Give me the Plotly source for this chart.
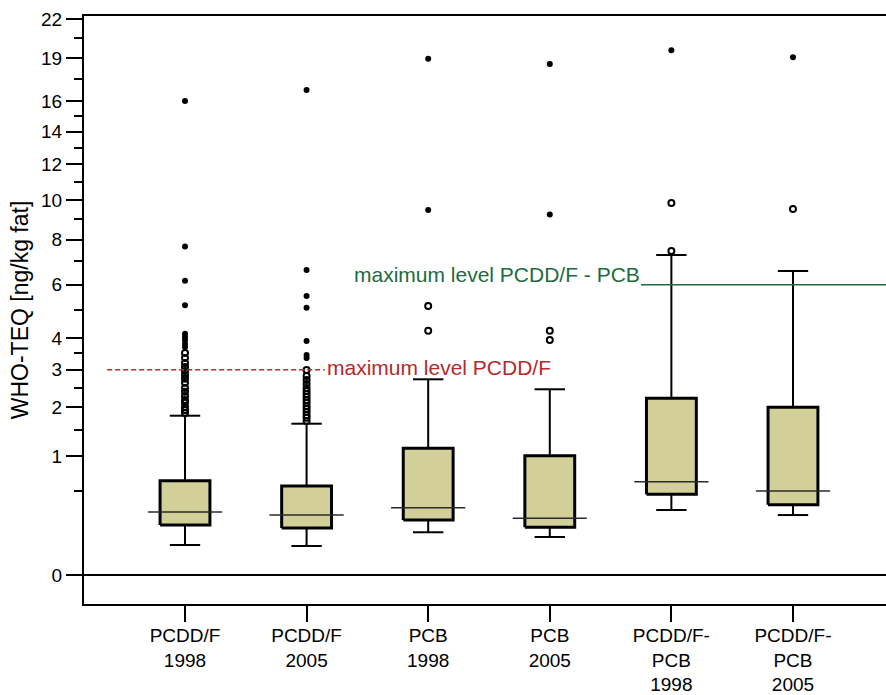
import numpy as np
import plotly.graph_objects as go

# Groups (TEQ scheme / year) and box statistics in ng WHO-TEQ per kg fat
categories = ["PCDD/F<br>1998", "PCDD/F<br>2005", "PCB<br>1998", "PCB<br>2005",
              "PCDD/F-<br>PCB<br>1998", "PCDD/F-<br>PCB<br>2005"]
q1 = [0.178, 0.157, 0.215, 0.162, 0.464, 0.352]
median = [0.283, 0.256, 0.323, 0.229, 0.620, 0.502]
q3 = [0.633, 0.564, 1.143, 1.014, 2.223, 2.003]
whisker_low = [0.064, 0.060, 0.130, 0.103, 0.301, 0.256]
whisker_high = [1.807, 1.630, 2.727, 2.456, 7.29, 6.58]

# Outliers (open circles) and extreme values (filled dots)
outliers_mild = [
    [3.51, 3.35, 3.20, 3.08, 2.96, 2.85, 2.74, 2.63, 2.49, 2.39, 2.28, 2.18, 2.11, 2.01, 1.94, 1.87],
    [2.99, 2.82, 2.71, 2.60, 2.49, 2.41, 2.33, 2.26, 2.18, 2.11, 2.03, 1.96, 1.89, 1.82, 1.76, 1.69],
    [5.15, 4.25],
    [4.25, 3.93],
    [9.86, 7.48],
    [9.54],
]
outliers_extreme = [
    [16.0, 7.68, 6.16, 5.18, 4.14, 4.03, 3.93, 3.80, 3.70],
    [16.75, 6.62, 5.54, 5.09, 3.90, 3.45, 3.35],
    [18.98, 9.49],
    [18.6, 9.25],
    [19.6],
    [19.09],
]

# EU maximum levels
max_level_pcddf = 3
max_level_total = 6

y_ticks = [0, 1, 2, 3, 4, 6, 8, 10, 12, 14, 16, 19, 22]
y_minor = [0.5, 1.5, 2.5, 3.5, 5, 7, 9, 11, 13, 15, 17.5, 20.5]


def t(v):
    """Square-root transform used for the value axis."""
    return np.sqrt(np.asarray(v, dtype=float))


FONT = "Liberation Sans, Arial, sans-serif"
BOX_FILL = "#d3cf99"
BOX_W = 0.41
MED_W = 0.61
CAP_W = 0.25

pos = np.arange(1, len(categories) + 1)

fig = go.Figure()

# whiskers and caps
wx, wy = [], []
for c, lo, a, b, hi in zip(pos, whisker_low, q1, q3, whisker_high):
    wx += [c, c, None, c, c, None,
           c - CAP_W / 2, c + CAP_W / 2, None, c - CAP_W / 2, c + CAP_W / 2, None]
    wy += [t(lo), t(a), None, t(b), t(hi), None,
           t(lo), t(lo), None, t(hi), t(hi), None]
fig.add_trace(go.Scatter(x=wx, y=wy, mode="lines",
                         line=dict(color="black", width=2), hoverinfo="skip"))

# boxes
for c, a, b in zip(pos, q1, q3):
    x0, x1 = c - BOX_W / 2, c + BOX_W / 2
    fig.add_trace(go.Scatter(
        x=[x0, x1, x1, x0, x0], y=[t(a), t(a), t(b), t(b), t(a)],
        mode="lines", fill="toself", fillcolor=BOX_FILL,
        line=dict(color="black", width=3), hoverinfo="skip"))

# medians (drawn wider than the boxes)
mx, my = [], []
for c, m in zip(pos, median):
    mx += [c - MED_W / 2, c + MED_W / 2, None]
    my += [t(m), t(m), None]
fig.add_trace(go.Scatter(x=mx, y=my, mode="lines",
                         line=dict(color="#2a2a2a", width=1.5), hoverinfo="skip"))

# outliers
ox, oy, ex, ey = [], [], [], []
for c, mild, ext in zip(pos, outliers_mild, outliers_extreme):
    ox += [c] * len(mild)
    oy += list(t(mild))
    ex += [c] * len(ext)
    ey += list(t(ext))
fig.add_trace(go.Scatter(x=ox, y=oy, mode="markers",
                         marker=dict(symbol="circle-open", size=6, color="black",
                                     line=dict(width=2, color="black"))))
fig.add_trace(go.Scatter(x=ex, y=ey, mode="markers",
                         marker=dict(symbol="circle", size=6, color="black")))

# maximum level lines
red = "#b52a2a"
green = "#1e6b3f"
fig.add_trace(go.Scatter(x=[0.36, 2.15], y=[t(max_level_pcddf)] * 2, mode="lines",
                         line=dict(color=red, width=1.5, dash="5px,3px"), hoverinfo="skip"))
fig.add_trace(go.Scatter(x=[4.75, 6.8], y=[t(max_level_total)] * 2, mode="lines",
                         line=dict(color=green, width=1.5), hoverinfo="skip"))
fig.add_annotation(x=2.15, y=float(t(max_level_pcddf)), xref="x", yref="y",
                   text="maximum level PCDD/F", showarrow=False,
                   xanchor="left", yanchor="middle", yshift=2,
                   font=dict(family=FONT, size=21, color=red))
fig.add_annotation(x=4.755, y=float(t(max_level_total)), xref="x", yref="y",
                   text="maximum level PCDD/F - PCB", showarrow=False,
                   xanchor="right", yanchor="middle", yshift=10,
                   font=dict(family=FONT, size=21, color=green))

fig.update_layout(
    width=886, height=695,
    margin=dict(l=84, r=0, t=16, b=91),
    plot_bgcolor="white", paper_bgcolor="white",
    showlegend=False,
    font=dict(family=FONT, color="black"),
)
fig.update_xaxes(
    range=[0.1694, 6.765], tickmode="array", tickvals=list(pos), ticktext=categories,
    ticks="outside", ticklen=16, tickwidth=2, tickcolor="black",
    showline=True, linecolor="black", linewidth=2, mirror=True,
    showgrid=False, zeroline=False, tickfont=dict(size=19), automargin=False,
    ticklabelstandoff=-3,
)
fig.update_yaxes(
    range=[-0.2447, 4.717], tickmode="array",
    tickvals=list(t(y_ticks)), ticktext=[str(v) for v in y_ticks],
    ticks="outside", ticklen=16, tickwidth=2, tickcolor="black",
    minor=dict(tickmode="array", tickvals=list(t(y_minor)), ticks="outside",
               ticklen=8, tickwidth=2, tickcolor="black", showgrid=False),
    showline=True, linecolor="black", linewidth=2,
    showgrid=False, zeroline=True, zerolinecolor="black", zerolinewidth=2,
    tickfont=dict(size=19), automargin=False,
    title=dict(text="WHO-TEQ [ng/kg fat]", font=dict(size=23), standoff=6),
)

fig.write_html("out.html")
